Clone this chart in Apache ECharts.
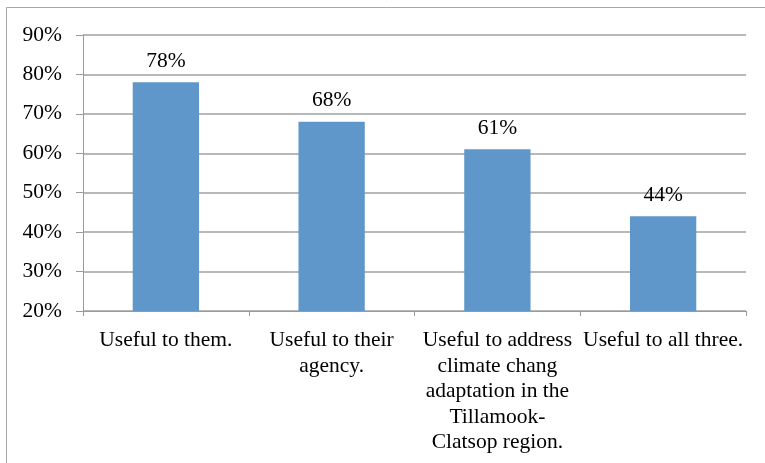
<!DOCTYPE html>
<html>
<head>
<meta charset="utf-8">
<script src="https://cdn.jsdelivr.net/npm/echarts@6/dist/echarts.min.js"></script>
<style>
html,body{margin:0;padding:0;background:#fff;}
#c{width:765px;height:463px;}
</style>
</head>
<body>
<div id="c"></div>
<script>
var categories = [
  "Useful to them.",
  "Useful to their\nagency.",
  "Useful to address\nclimate chang\nadaptation in the\nTillamook-\nClatsop region.",
  "Useful to all three."
];
var values = [78, 68, 61, 44];
var yMin = 20, yMax = 90, yStep = 10;

var FONT = "Liberation Serif";
var chart = echarts.init(document.getElementById('c'), null, {renderer: 'canvas'});
chart.setOption({
  animation: false,
  backgroundColor: '#fff',
  graphic: [{
    type: 'rect',
    shape: {x: 6.5, y: 7.5, width: 900, height: 600},
    style: {fill: 'none', stroke: '#a6a6a6', lineWidth: 1},
    z: -1
  }],
  grid: {left: 83, right: 19, top: 35, bottom: 152, containLabel: false},
  xAxis: {
    type: 'category',
    data: categories,
    boundaryGap: true,
    axisLine: {show: true, lineStyle: {color: '#9a9a9a', width: 1}},
    axisTick: {show: true, length: 5, lineStyle: {color: '#9a9a9a'}},
    axisLabel: {
      interval: 0,
      margin: 17,
      color: '#000',
      fontFamily: FONT,
      fontSize: 21.5,
      lineHeight: 25.5,
      align: 'center'
    }
  },
  yAxis: {
    type: 'value',
    min: yMin, max: yMax, interval: yStep,
    axisLine: {show: true, lineStyle: {color: '#9a9a9a', width: 1}},
    axisTick: {show: true, length: 7, lineStyle: {color: '#9a9a9a'}},
    splitLine: {show: true, lineStyle: {color: '#a0a0a0', width: 1.5}},
    axisLabel: {
      margin: 21,
      color: '#000',
      fontFamily: FONT,
      fontSize: 21.5,
      formatter: function (v) { return v + '%'; }
    }
  },
  series: [{
    type: 'bar',
    data: values,
    barWidth: '40%',
    itemStyle: {color: '#6097cb'},
    label: {
      show: true,
      position: 'top',
      distance: 10,
      color: '#000',
      fontFamily: FONT,
      fontSize: 21.5,
      formatter: function (p) { return p.value + '%'; }
    }
  }]
});
</script>
</body>
</html>
